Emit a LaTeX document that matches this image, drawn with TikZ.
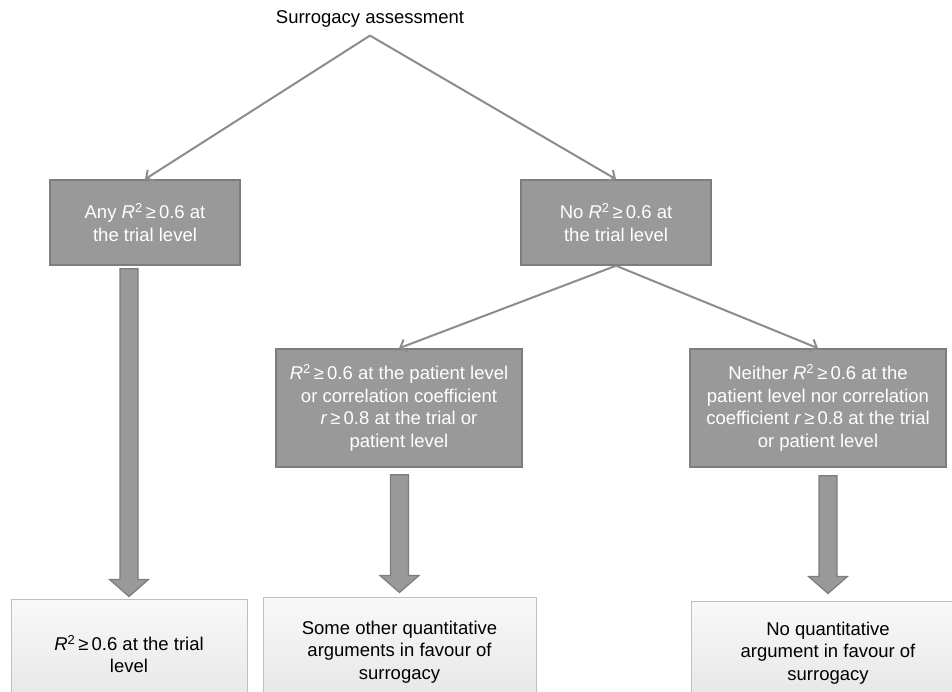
\documentclass[tikz,border=0pt]{standalone}
\usepackage{fontspec}
\setmainfont{Liberation Sans}
\definecolor{BoxDark}{HTML}{999999}
\definecolor{BoxEdge}{HTML}{7D7D7D}
\definecolor{LineGrey}{HTML}{8C8C8C}
\usetikzlibrary{positioning,arrows.meta,calc}
\newcommand{\Rsq}{\textit{R}\textsuperscript{2}}
\newcommand{\fatarrow}[2]{%
  \draw[fat] ($(#1)+(-9,0)$) -- ($(#1)+(9,0)$) -- ($(#2)+(9,-17)$) -- ($(#2)+(19.5,-17)$)
    -- (#2) -- ($(#2)+(-19.5,-17)$) -- ($(#2)+(-9,-17)$) -- cycle;}

\begin{document}
\begin{tikzpicture}[x=1pt, y=-1pt, font=\fontsize{18.5}{22.5}\selectfont,
    cond/.style={draw=BoxEdge, line width=1.5pt, fill=BoxDark, text=white, align=center, inner sep=0pt},
    verdict/.style={draw=gray!50, line width=1pt, top color=gray!5, bottom color=gray!20, align=center, inner sep=0pt},
    branch/.style={draw=LineGrey, line width=2pt, -{Straight Barb[length=6pt,width=13pt]}},
    fat/.style={draw=BoxEdge, fill=BoxDark, line width=1.2pt}]
  \useasboundingbox (0,0) rectangle (952,692);
  \clip (0,0) rectangle (952,692);

  \node[inner ysep=8pt] (title) at (370,19) {Surrogacy assessment};

  % conditions
  \node[cond, minimum width=190pt, minimum height=85pt] (trial) at (145,222.5) {Any \Rsq\,≥\,0.6 at\\the trial level};
  \node[cond, minimum width=190pt, minimum height=85pt] (notrial) at (616,222.5) {No \Rsq\,≥\,0.6 at\\the trial level};
  \node[cond, minimum width=246pt, minimum height=118pt] (patient) at (399,408) {\Rsq\,≥\,0.6 at the patient level\\or correlation coefficient\\\textit{r}\,≥\,0.8 at the trial or\\patient level};
  \node[cond, minimum width=256pt, minimum height=118pt] (neither) at (818,408) {Neither \Rsq\,≥\,0.6 at the\\patient level nor correlation\\coefficient \textit{r}\,≥\,0.8 at the trial\\or patient level};

  % conclusions
  \node[verdict, minimum width=236pt, minimum height=110pt] (yes) at (129,654) {\Rsq\,≥\,0.6 at the trial\\level};
  \node[verdict, minimum width=273pt, minimum height=110pt] (other) at (399.5,652) {Some other quantitative\\arguments in favour of\\surrogacy};
  \node[verdict, minimum width=274pt, minimum height=104pt] (none) at (828,653) {No quantitative\\argument in favour of\\surrogacy};

  \draw[branch] (title.south) -- (trial.north);
  \draw[branch] (title.south) -- (notrial.north);
  \draw[branch] (notrial.south) -- (patient.north);
  \draw[branch] (notrial.south) -- (neither.north);

  \coordinate (s1) at ($(trial.south -| yes.north)+(0,3)$);
  \coordinate (t1) at ($(yes.north)+(0,-2)$);
  \coordinate (s2) at ($(patient.south -| other.north)+(0,7)$);
  \coordinate (t2) at ($(other.north)+(0,-4)$);
  \coordinate (s3) at ($(neither.south -| none.north)+(0,8)$);
  \coordinate (t3) at ($(none.north)+(0,-7)$);
  \fatarrow{s1}{t1}
  \fatarrow{s2}{t2}
  \fatarrow{s3}{t3}
\end{tikzpicture}
\end{document}
